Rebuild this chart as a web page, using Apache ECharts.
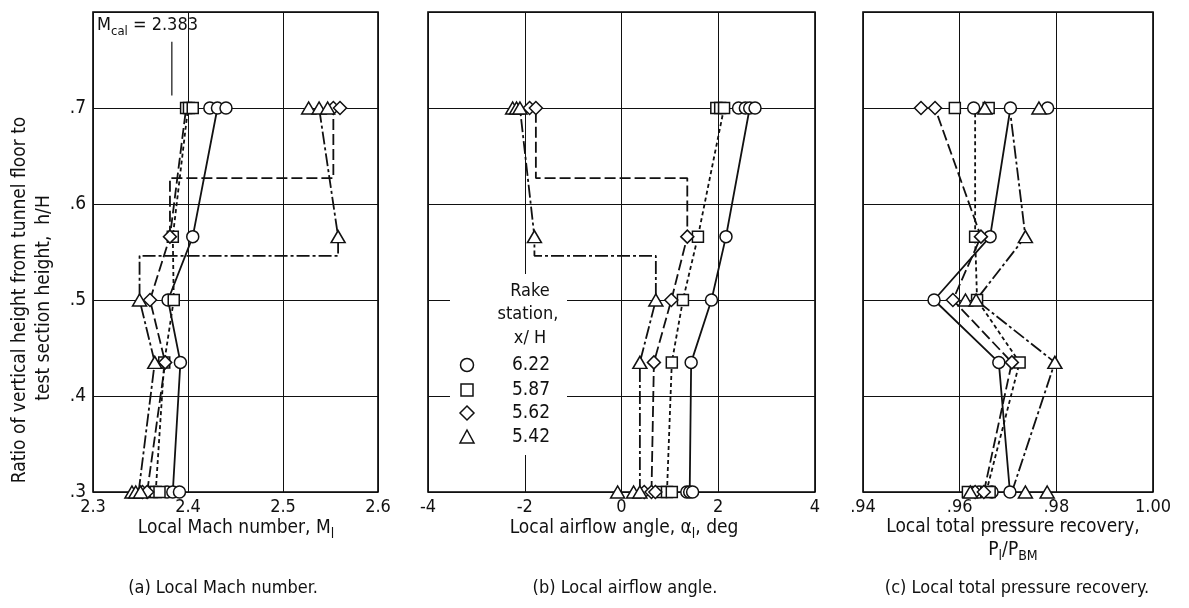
<!DOCTYPE html>
<html>
<head>
<meta charset="UTF-8" />
<script type="text/javascript" src="https://cdn.jsdelivr.net/npm/echarts@6/dist/echarts.min.js"></script>
<style>
html, body { margin: 0; padding: 0; background: #fff; }
#chartmain { width: 1189px; height: 608px; }
</style>
</head>
<body>
<div id="chartmain"></div>
<script type="text/javascript">
// calibration Mach number
var mCal = 2.383;
var mCalLine = [[2.383, 0.713], [2.383, 0.769]];

// (a) local Mach number, [M, h/H]
var machCirclePath = [[2.384, 0.3], [2.392, 0.435], [2.379, 0.5], [2.405, 0.566], [2.431, 0.7]];
var machCircleMarks = [[2.378, 0.3], [2.384, 0.3], [2.391, 0.3], [2.392, 0.435], [2.379, 0.5], [2.405, 0.566], [2.423, 0.7], [2.431, 0.7], [2.440, 0.7]];
var machSquarePath = [[2.366, 0.3], [2.375, 0.435], [2.385, 0.5], [2.384, 0.566], [2.400, 0.7]];
var machSquareMarks = [[2.362, 0.3], [2.366, 0.3], [2.370, 0.3], [2.375, 0.435], [2.385, 0.5], [2.384, 0.566], [2.398, 0.7], [2.401, 0.7], [2.405, 0.7]];
var machDiamondPath = [[2.357, 0.3], [2.376, 0.435], [2.360, 0.5], [2.381, 0.566], [2.398, 0.7]];
var machDiamondStep = [[2.381, 0.566], [2.381, 0.627], [2.553, 0.627], [2.553, 0.7]];
var machDiamondMarks = [[2.352, 0.3], [2.357, 0.3], [2.376, 0.435], [2.360, 0.5], [2.381, 0.566], [2.553, 0.7], [2.560, 0.7]];
var machTrianglePath = [[2.348, 0.3], [2.365, 0.435], [2.349, 0.5], [2.349, 0.546], [2.558, 0.546], [2.558, 0.566], [2.538, 0.7]];
var machTriangleMarks = [[2.341, 0.3], [2.345, 0.3], [2.350, 0.3], [2.365, 0.435], [2.349, 0.5], [2.558, 0.566], [2.527, 0.7], [2.538, 0.7], [2.547, 0.7]];

// (b) local airflow angle, [deg, h/H]
var angleCirclePath = [[1.41, 0.3], [1.44, 0.435], [1.86, 0.5], [2.16, 0.566], [2.65, 0.7]];
var angleCircleMarks = [[1.35, 0.3], [1.41, 0.3], [1.47, 0.3], [1.44, 0.435], [1.86, 0.5], [2.16, 0.566], [2.42, 0.7], [2.56, 0.7], [2.65, 0.7], [2.76, 0.7]];
var angleSquarePath = [[0.94, 0.3], [1.04, 0.435], [1.27, 0.5], [1.58, 0.566], [2.12, 0.7]];
var angleSquareMarks = [[0.82, 0.3], [0.94, 0.3], [1.04, 0.3], [1.04, 0.435], [1.27, 0.5], [1.58, 0.566], [1.96, 0.7], [2.04, 0.7], [2.12, 0.7]];
var angleDiamondPath = [[0.62, 0.3], [0.67, 0.435], [1.03, 0.5], [1.36, 0.566], [1.36, 0.627], [-1.77, 0.627], [-1.77, 0.7]];
var angleDiamondMarks = [[0.47, 0.3], [0.62, 0.3], [0.70, 0.3], [0.67, 0.435], [1.03, 0.5], [1.36, 0.566], [-1.90, 0.7], [-1.77, 0.7]];
var angleTrianglePath = [[0.38, 0.3], [0.38, 0.435], [0.71, 0.5], [0.71, 0.546], [-1.80, 0.546], [-1.80, 0.566], [-2.10, 0.7]];
var angleTriangleMarks = [[-0.08, 0.3], [0.25, 0.3], [0.38, 0.3], [0.38, 0.435], [0.71, 0.5], [-1.80, 0.566], [-2.25, 0.7], [-2.17, 0.7], [-2.10, 0.7]];

// (c) local total pressure recovery, [P/Pbm, h/H]
var pressCirclePath = [[0.9704, 0.3], [0.9681, 0.435], [0.9547, 0.5], [0.9663, 0.566], [0.9705, 0.7]];
var pressCircleMarks = [[0.9640, 0.3], [0.9667, 0.3], [0.9704, 0.3], [0.9681, 0.435], [0.9547, 0.5], [0.9663, 0.566], [0.9629, 0.7], [0.9705, 0.7], [0.9782, 0.7]];
var pressSquarePath = [[0.9655, 0.3], [0.9724, 0.435], [0.9636, 0.5], [0.9632, 0.566], [0.9632, 0.7]];
var pressSquareMarks = [[0.9617, 0.3], [0.9655, 0.3], [0.9662, 0.3], [0.9724, 0.435], [0.9636, 0.5], [0.9632, 0.566], [0.9590, 0.7], [0.9660, 0.7]];
var pressDiamondPath = [[0.9650, 0.3], [0.9708, 0.435], [0.9586, 0.5], [0.9644, 0.566], [0.9549, 0.7]];
var pressDiamondMarks = [[0.9632, 0.3], [0.9650, 0.3], [0.9708, 0.435], [0.9586, 0.5], [0.9644, 0.566], [0.9520, 0.7], [0.9549, 0.7]];
var pressTrianglePath = [[0.9708, 0.3], [0.9797, 0.435], [0.9634, 0.5], [0.9736, 0.566], [0.9706, 0.69]];
var pressTriangleMarks = [[0.9622, 0.3], [0.9736, 0.3], [0.9781, 0.3], [0.9797, 0.435], [0.9612, 0.5], [0.9634, 0.5], [0.9736, 0.566], [0.9652, 0.7], [0.9764, 0.7]];

// legend (rake station x/H)
var rakeStations = ['6.22', '5.87', '5.62', '5.42'];

var FONT = "'Liberation Sans Narrow', 'DejaVu Sans Condensed', 'Liberation Sans', sans-serif";
var INK = '#111';

var dashCircle = 'solid', dashSquare = [4, 3], dashDiamond = [11, 4], dashTriangle = [13, 3, 3, 3];

function pathSeries(g, pts, dash) {
	return {
		type: 'line', xAxisIndex: g, yAxisIndex: g, data: pts,
		symbol: 'none', showSymbol: false, silent: true, animation: false, z: 2,
		lineStyle: { color: INK, width: 1.8, type: dash }
	};
}
function markSeries(g, pts, sym, size) {
	return {
		type: 'scatter', xAxisIndex: g, yAxisIndex: g, data: pts,
		symbol: sym, symbolSize: size, silent: true, animation: false, z: 3,
		itemStyle: { color: '#fff', borderColor: INK, borderWidth: 1.5, opacity: 1 }
	};
}
function rake(g, path, marks, kind) {
	var s = {
		circle: ['circle', 12, dashCircle],
		square: ['rect', 11, dashSquare],
		diamond: ['diamond', [13, 13], dashDiamond],
		triangle: ['triangle', [14, 12], dashTriangle]
	}[kind];
	return [pathSeries(g, path, s[2]), markSeries(g, marks, s[0], s[1])];
}

var gridBox = { top: 12, height: 480, show: true, borderColor: '#000', borderWidth: 1.6, backgroundColor: '#fff' };
function grid(left, width) {
	return Object.assign({ left: left, width: width }, gridBox);
}
function xAx(g, min, max, step, fmt) {
	return {
		type: 'value', gridIndex: g, min: min, max: max, interval: step,
		axisLine: { show: false }, axisTick: { show: false },
		splitLine: { show: true, lineStyle: { color: INK, width: 1 } },
		axisLabel: { color: INK, fontFamily: FONT, fontSize: 18, margin: 6, formatter: fmt, showMinLabel: true, showMaxLabel: true }
	};
}
function yAx(g, labels) {
	return {
		type: 'value', gridIndex: g, min: 0.3, max: 0.8, interval: 0.1,
		axisLine: { show: false }, axisTick: { show: false },
		splitLine: { show: true, lineStyle: { color: INK, width: 1 } },
		axisLabel: {
			show: labels, color: INK, fontFamily: FONT, fontSize: 19, margin: 7,
			formatter: function (v) { return v > 0.75 ? '' : '.' + Math.round(v * 10); }
		}
	};
}

var series = [].concat(
	rake(0, machCirclePath, machCircleMarks, 'circle'),
	rake(0, machSquarePath, machSquareMarks, 'square'),
	rake(0, machDiamondPath, machDiamondMarks, 'diamond'),
	[pathSeries(0, machDiamondStep, dashDiamond)],
	rake(0, machTrianglePath, machTriangleMarks, 'triangle'),
	[Object.assign(pathSeries(0, mCalLine, 'solid'), { lineStyle: { color: INK, width: 1.2 } })],
	rake(1, angleCirclePath, angleCircleMarks, 'circle'),
	rake(1, angleSquarePath, angleSquareMarks, 'square'),
	rake(1, angleDiamondPath, angleDiamondMarks, 'diamond'),
	rake(1, angleTrianglePath, angleTriangleMarks, 'triangle'),
	rake(2, pressCirclePath, pressCircleMarks, 'circle'),
	rake(2, pressSquarePath, pressSquareMarks, 'square'),
	rake(2, pressDiamondPath, pressDiamondMarks, 'diamond'),
	rake(2, pressTrianglePath, pressTriangleMarks, 'triangle')
);

function richSet(size) {
	return {
		a: { fontFamily: FONT, fontSize: size, lineHeight: size + 8, fill: INK },
		s: { fontFamily: FONT, fontSize: Math.round(size * 0.72), lineHeight: Math.round(size * 0.72), verticalAlign: 'bottom', fill: INK }
	};
}
function label(x, y, text, size) {
	size = size || 18;
	return {
		type: 'text', x: x, y: y, z: 20,
		style: { text: text, fill: INK, font: size + 'px ' + FONT, align: 'center', verticalAlign: 'middle', rich: richSet(size) }
	};
}

// legend block inside panel (b), white box breaks the grid lines
var legendItems = [
	{ type: 'rect', x: 450, y: 274, z: 10, shape: { x: 0, y: 0, width: 117, height: 181 }, style: { fill: '#fff' } },
	label(530, 291, 'Rake'),
	label(528, 314, 'station,'),
	label(530, 338, 'x/ H')
];
var rowY = [365, 390, 413, 437];
rakeStations.forEach(function (s, i) {
	legendItems.push({ type: 'text', x: 512, y: rowY[i], z: 20, style: { text: s, fill: INK, font: '19px ' + FONT, align: 'left', verticalAlign: 'middle' } });
});
var sym = { stroke: INK, lineWidth: 1.5, fill: '#fff' };
legendItems.push({ type: 'circle', z: 20, shape: { cx: 467, cy: rowY[0], r: 6.5 }, style: sym });
legendItems.push({ type: 'rect', z: 20, shape: { x: 461, y: rowY[1] - 6, width: 12, height: 12 }, style: sym });
legendItems.push({ type: 'polygon', z: 20, shape: { points: [[467, rowY[2] - 7], [474, rowY[2]], [467, rowY[2] + 7], [460, rowY[2]]] }, style: sym });
legendItems.push({ type: 'polygon', z: 20, shape: { points: [[467, rowY[3] - 7], [474, rowY[3] + 6], [460, rowY[3] + 6]] }, style: sym });

var myChart = echarts.init(document.getElementById('chartmain'));
var option = {
	backgroundColor: '#fff',
	animation: false,
	grid: [grid(93, 285), grid(428, 387), grid(863, 290)],
	xAxis: [
		xAx(0, 2.3, 2.6, 0.1, function (v) { return v.toFixed(1); }),
		xAx(1, -4, 4, 2, function (v) { return '' + v; }),
		xAx(2, 0.94, 1.0, 0.02, function (v) { return v > 0.999 ? '1.00' : '.' + Math.round(v * 100); })
	],
	yAxis: [yAx(0, true), yAx(1, false), yAx(2, false)],
	series: series,
	graphic: { elements: legendItems.concat([
		{
			type: 'text', x: 97, y: 25, z: 20,
			style: { text: '{a|M}{s|cal}{a| = ' + mCal + '}', align: 'left', verticalAlign: 'middle', rich: richSet(18) }
		},
		label(236, 528, '{a|Local Mach number, M}{s|l}', 19),
		label(624, 528, '{a|Local airflow angle, \u03b1}{s|l}{a|, deg}', 19),
		label(1013, 527, 'Local total pressure recovery,', 19),
		label(1013, 550, '{a|P}{s|l}{a|/P}{s|BM}', 19),
		label(223, 588, '(a) Local Mach number.', 18),
		label(625, 588, '(b) Local airflow angle.', 18),
		label(1017, 588, '(c) Local total pressure recovery.', 18),
		{
			type: 'text', x: 20, y: 300, rotation: Math.PI / 2, z: 20,
			style: { text: 'Ratio of vertical height from tunnel floor to', fill: INK, font: '19px ' + FONT, align: 'center', verticalAlign: 'middle' }
		},
		{
			type: 'text', x: 44, y: 298, rotation: Math.PI / 2, z: 20,
			style: { text: 'test section height,  h/H', fill: INK, font: '19px ' + FONT, align: 'center', verticalAlign: 'middle' }
		}
	]) }
};
myChart.setOption(option);
</script>
</body>
</html>
